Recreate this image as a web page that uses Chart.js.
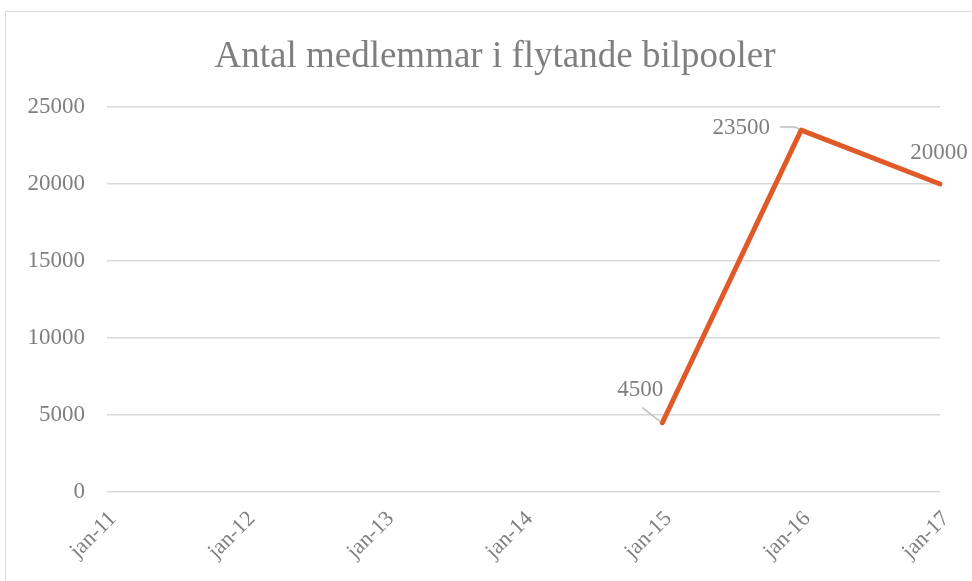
<!DOCTYPE html>
<html>
<head>
<meta charset="utf-8">
<script src="https://cdn.jsdelivr.net/npm/chart.js@4.4.1/dist/chart.umd.min.js"></script>
<style>
  html, body { margin: 0; padding: 0; background: #fff; overflow: hidden; }
  #frame { position: absolute; left: 5px; top: 11px; width: 1000px; height: 620px; border: 1.5px solid #d9d9d9; box-sizing: border-box; }
  #wrap { position: absolute; left: 0; top: 0; width: 972px; height: 581px; }
</style>
</head>
<body>
<div id="frame"></div>
<div id="wrap"><canvas id="c" width="972" height="581"></canvas></div>
<script>
// chart values
const categories = ['jan-11', 'jan-12', 'jan-13', 'jan-14', 'jan-15', 'jan-16', 'jan-17'];
const members = [null, null, null, null, 4500, 23500, 20000];
const yTicks = [0, 5000, 10000, 15000, 20000, 25000];
const titleText = 'Antal medlemmar i flytande bilpooler';

const SERIF = '"Liberation Serif", "Times New Roman", serif';
const GREY = '#7f7f7f';

// title drawn by hand so it can sit centred on the whole frame
const titlePlugin = {
  id: 'frameTitle',
  afterDraw(chart, args, opts) {
    const ctx = chart.ctx;
    ctx.save();
    ctx.font = opts.font;
    ctx.fillStyle = GREY;
    ctx.textAlign = 'center';
    ctx.textBaseline = 'alphabetic';
    ctx.fillText(titleText, opts.x, opts.y);
    ctx.restore();
  }
};

// data labels, offset from the point, with a small grey leader line
const labelPlugin = {
  id: 'pointLabels',
  afterDatasetsDraw(chart, args, opts) {
    const ctx = chart.ctx;
    const meta = chart.getDatasetMeta(0);
    ctx.save();
    ctx.font = opts.font;
    ctx.fillStyle = GREY;
    ctx.textAlign = 'center';
    ctx.textBaseline = 'middle';
    meta.data.forEach((pt, i) => {
      const v = members[i];
      if (v == null) return;
      const o = opts.offsets[i];
      if (o.leader) {
        ctx.strokeStyle = '#bfbfbf';
        ctx.lineWidth = 1.5;
        ctx.beginPath();
        ctx.moveTo(pt.x + o.leader[0], pt.y + o.leader[1]);
        ctx.lineTo(pt.x + o.leader[2], pt.y + o.leader[3]);
        ctx.lineTo(pt.x - 2, pt.y - 1);
        ctx.stroke();
      }
      ctx.fillText(String(v), pt.x + o.dx, pt.y + o.dy);
    });
    ctx.restore();
  }
};

new Chart(document.getElementById('c'), {
  type: 'line',
  data: {
    labels: categories,
    datasets: [{
      data: members,
      borderColor: '#e05a28',
      borderWidth: 5,
      borderCapStyle: 'round',
      borderJoinStyle: 'round',
      pointRadius: 0,
      spanGaps: false,
      tension: 0
    }]
  },
  options: {
    responsive: false,
    animation: false,
    layout: { padding: { left: 20, right: 32, top: 107, bottom: 0 } },
    plugins: {
      legend: { display: false },
      tooltip: { enabled: false },
      title: { display: false },
      frameTitle: { font: '37px ' + SERIF, x: 495, y: 67 },
      pointLabels: {
        font: '23px ' + SERIF,
        offsets: [null, null, null, null,
          { dx: -22, dy: -33, leader: [-20, -15, -20, -15] },
          { dx: -60, dy: -2, leader: [-21, -3, -6, -3] },
          { dx: -1, dy: -31 }]
      }
    },
    scales: {
      x: {
        offset: false,
        grid: { display: false },
        border: { display: false },
        ticks: {
          color: GREY,
          font: { family: SERIF, size: 22 },
          maxRotation: 45,
          minRotation: 45,
          labelOffset: 6,
          padding: 6
        },
        afterFit(s) { s.height = 89; }
      },
      y: {
        min: 0,
        max: 25000,
        afterBuildTicks(s) { s.ticks = yTicks.map(v => ({ value: v })); },
        grid: { color: '#d9d9d9', lineWidth: 1.5, drawTicks: false },
        border: { display: false },
        ticks: {
          color: GREY,
          font: { family: SERIF, size: 23 },
          padding: 22,
          callback: v => String(v)
        },
        afterFit(s) { s.width = 87; }
      }
    }
  },
  plugins: [labelPlugin, titlePlugin]
});
</script>
</body>
</html>
